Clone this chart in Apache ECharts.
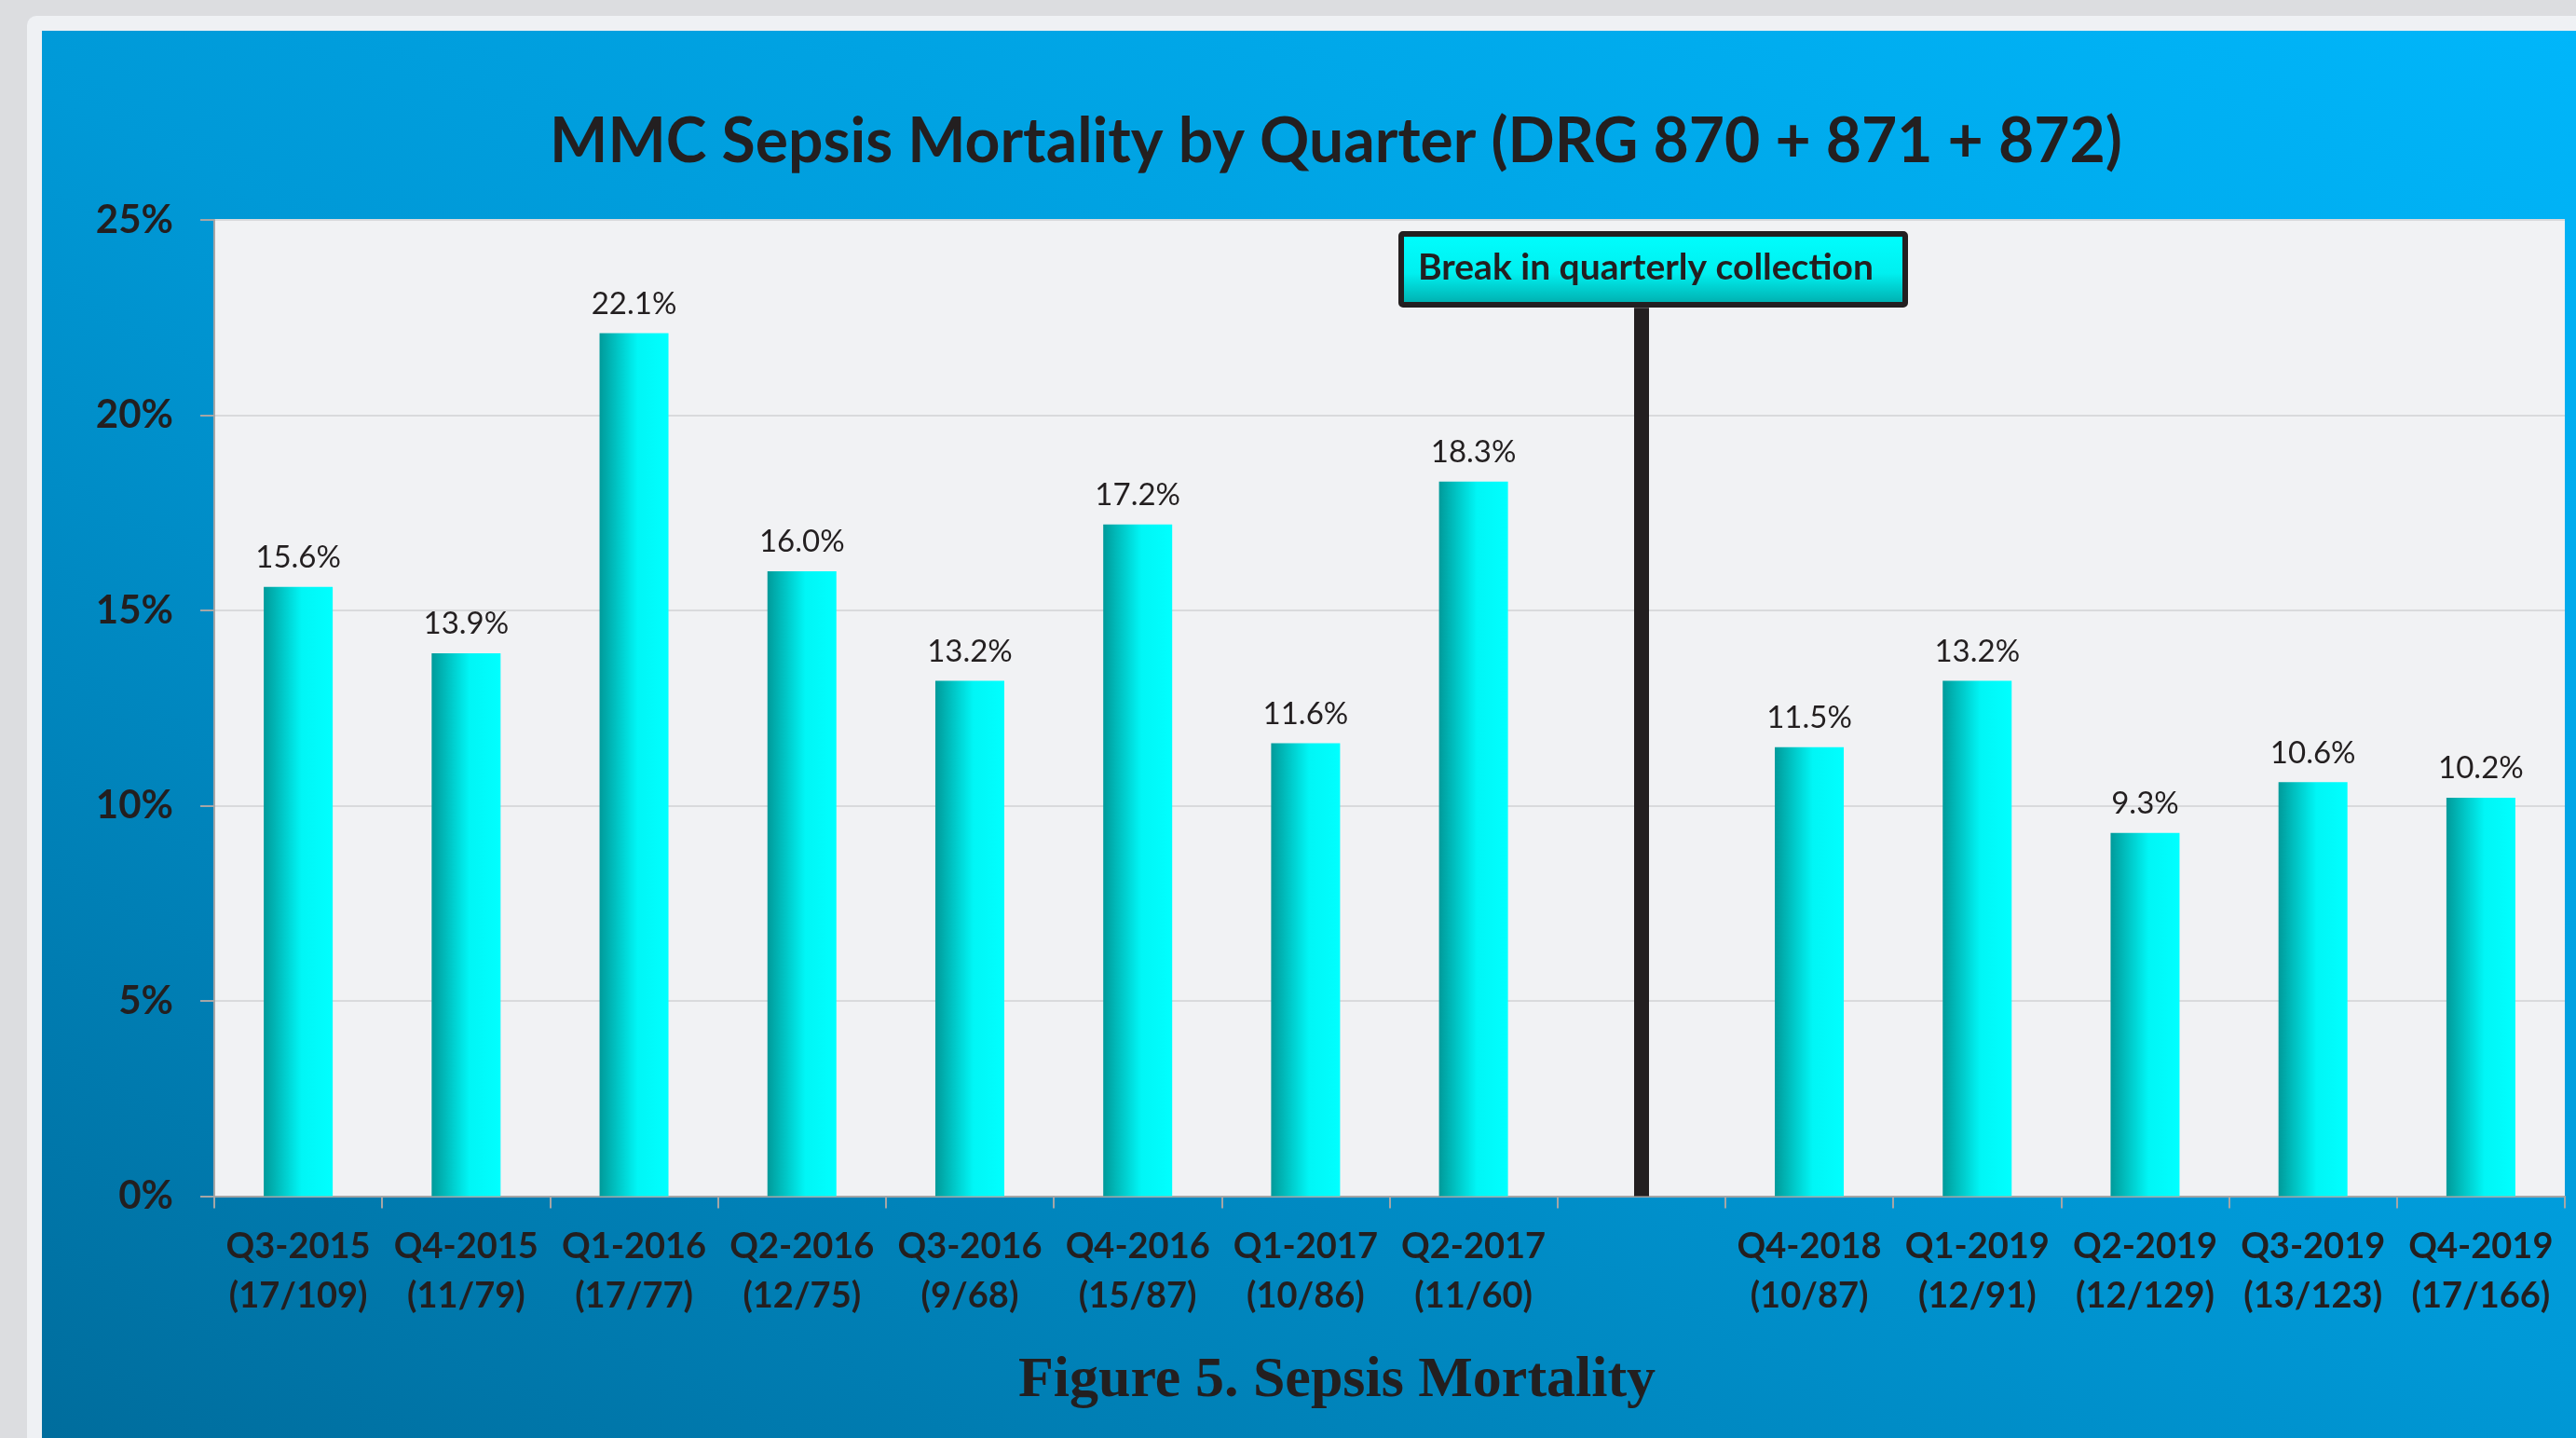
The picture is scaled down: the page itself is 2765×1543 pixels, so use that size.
<!DOCTYPE html>
<html>
<head>
<meta charset="utf-8">
<script src="https://cdn.jsdelivr.net/npm/echarts@6/dist/echarts.min.js"></script>
<style>
  html, body { margin: 0; padding: 0; width: 2765px; height: 1543px; overflow: hidden; background: #dcdde0; }
  #frame { position: absolute; left: 29px; top: 17px; width: 2800px; height: 1600px; background: #eff1f4; border-radius: 10px 0 0 0; }
  #blue { position: absolute; left: 45px; top: 33px; width: 2720px; height: 1510px;
          background: linear-gradient(27deg, #006d9d 0%, #0099d7 50%, #00b6fa 100%); }
  #chart { position: absolute; left: 0; top: 0; width: 2765px; height: 1543px; }
</style>
</head>
<body>
<div id="frame"></div>
<div id="blue"></div>
<div id="chart"></div>
<script>
// ---- data ----
const quarters = ['Q3-2015','Q4-2015','Q1-2016','Q2-2016','Q3-2016','Q4-2016','Q1-2017','Q2-2017','','Q4-2018','Q1-2019','Q2-2019','Q3-2019','Q4-2019'];
const counts   = ['(17/109)','(11/79)','(17/77)','(12/75)','(9/68)','(15/87)','(10/86)','(11/60)','','(10/87)','(12/91)','(12/129)','(13/123)','(17/166)'];
const mortality = [15.6, 13.9, 22.1, 16.0, 13.2, 17.2, 11.6, 18.3, null, 11.5, 13.2, 9.3, 10.6, 10.2];
const yTicks = [0, 5, 10, 15, 20, 25];
const breakIndex = 8;
const breakTop = 22.75;
const titleText = 'MMC Sepsis Mortality by Quarter (DRG 870 + 871 + 872)';
const captionText = 'Figure 5. Sepsis Mortality';
const breakText = 'Break in quarterly collection';

const categories = quarters.map((q, i) => q ? q + '\n' + counts[i] : '');
const dark = '#231f20';
const axisGray = '#a6a6a6';

const chart = echarts.init(document.getElementById('chart'), null, { renderer: 'canvas' });
chart.setOption({
  backgroundColor: 'transparent',
  animation: false,
  grid: { left: 230, top: 236, right: 12, bottom: 259.5, show: true, backgroundColor: '#f1f2f4', borderWidth: 0 },
  xAxis: {
    type: 'category',
    data: categories,
    axisLine: { show: true, lineStyle: { color: axisGray, width: 2 } },
    axisTick: { show: true, alignWithLabel: false, length: 13, lineStyle: { color: axisGray, width: 2 } },
    axisLabel: { interval: 0, margin: 28, color: dark, fontFamily: 'Lato', fontWeight: 'bold', fontSize: 38, lineHeight: 53 },
    splitLine: { show: false }
  },
  yAxis: {
    type: 'value',
    min: yTicks[0],
    max: yTicks[yTicks.length - 1],
    interval: 5,
    axisLine: { show: true, lineStyle: { color: axisGray, width: 2 } },
    axisTick: { show: true, length: 15, lineStyle: { color: axisGray, width: 2 } },
    axisLabel: { margin: 44, color: dark, fontFamily: 'Lato', fontWeight: 'bold', fontSize: 42, formatter: v => v + '%' },
    splitLine: { show: true, lineStyle: { color: '#d9dadc', width: 2 } }
  },
  series: [{
    type: 'bar',
    data: mortality,
    barWidth: 74,
    itemStyle: {
      color: new echarts.graphic.LinearGradient(0, 0, 1, 0, [
        { offset: 0, color: '#009a9a' },
        { offset: 0.55, color: '#00f6f6' },
        { offset: 1, color: '#00ffff' }
      ])
    },
    label: {
      show: true, position: 'top', distance: 15,
      color: dark, fontFamily: 'Lato', fontSize: 33,
      formatter: p => p.value.toFixed(1) + '%'
    },
    markLine: {
      silent: true,
      symbol: ['none', 'none'],
      label: { show: false },
      lineStyle: { color: dark, width: 16, type: 'solid' },
      data: [[ { coord: [breakIndex, 0] }, { coord: [breakIndex, breakTop] } ]]
    }
  }],
  graphic: [
    {
      type: 'text', x: 1434, y: 153, z: 100,
      style: { text: titleText, fill: dark, font: 'bold 66px Lato', textAlign: 'center', textVerticalAlign: 'middle' }
    },
    {
      type: 'text', x: 1435, y: 1482, z: 100,
      style: { text: captionText, fill: dark, font: 'bold 62px "Liberation Serif"', textAlign: 'center', textVerticalAlign: 'middle' }
    },
    {
      type: 'rect', z: 100,
      shape: { x: 1504, y: 251, width: 541, height: 76, r: 2 },
      style: {
        fill: new echarts.graphic.LinearGradient(0, 0, 0, 1, [
          { offset: 0, color: '#00ffff' },
          { offset: 0.55, color: '#00f0f0' },
          { offset: 1, color: '#00a6a6' }
        ]),
        stroke: dark, lineWidth: 6
      }
    },
    {
      type: 'text', x: 1522, y: 287, z: 101,
      style: { text: breakText, fill: dark, font: 'bold 39px Lato', textAlign: 'left', textVerticalAlign: 'middle' }
    }
  ]
});
</script>
</body>
</html>
